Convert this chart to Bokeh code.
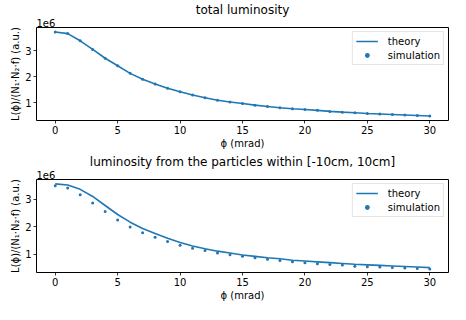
from bokeh.plotting import figure
from bokeh.layouts import column
from bokeh.models import FixedTicker, Range1d, Title
from bokeh.embed import file_html
from bokeh.resources import INLINE

phi = list(range(0, 31))

# values in units of 1e6
total_theory = [3.72, 3.655, 3.38, 3.05, 2.71, 2.42, 2.13, 1.90, 1.72, 1.56,
                1.42, 1.30, 1.19, 1.10, 1.03, 0.97, 0.91, 0.86, 0.81, 0.77,
                0.74, 0.71, 0.67, 0.64, 0.615, 0.59, 0.57, 0.55, 0.53, 0.51, 0.49]
total_sim = [3.72, 3.655, 3.38, 3.05, 2.71, 2.42, 2.13, 1.90, 1.72, 1.56,
             1.42, 1.30, 1.19, 1.10, 1.03, 0.97, 0.91, 0.86, 0.81, 0.77,
             0.74, 0.71, 0.67, 0.64, 0.615, 0.59, 0.57, 0.55, 0.53, 0.51, 0.49]

win_theory = [3.57, 3.53, 3.37, 3.11, 2.78, 2.45, 2.17, 1.94, 1.76, 1.58,
              1.43, 1.30, 1.20, 1.11, 1.04, 0.97, 0.92, 0.87, 0.83, 0.78,
              0.75, 0.72, 0.69, 0.66, 0.63, 0.61, 0.59, 0.57, 0.55, 0.53, 0.51]
win_sim = [3.50, 3.42, 3.17, 2.87, 2.56, 2.25, 1.99, 1.78, 1.62, 1.46,
           1.33, 1.22, 1.13, 1.04, 0.98, 0.92, 0.87, 0.81, 0.77, 0.72,
           0.69, 0.65, 0.62, 0.60, 0.56, 0.54, 0.53, 0.51, 0.49, 0.48, 0.46]

titles = ["total luminosity",
          "luminosity from the particles within [-10cm, 10cm]"]
x_ticks = [0, 5, 10, 15, 20, 25, 30]
y_ticks = [1, 2, 3]
x_label = "\u03d5 (mrad)"
y_label = "L(\u03d5)/(N\u2081\u00b7N\u2082\u00b7f) (a.u.)"
offset_text = "1e6"

FONT = "DejaVu Sans"
BLUE = "#1f77b4"


def make(title, theory, sim, ylim, height):
    p = figure(width=450, height=height, output_backend="svg",
               toolbar_location=None,
               x_range=Range1d(-1.5, 31.5), y_range=Range1d(*ylim),
               min_border_left=36, min_border_right=2,
               min_border_top=0, min_border_bottom=32)

    # offset text "1e6" sits just above the axes box, left aligned
    p.add_layout(Title(text=offset_text, align="left", text_font=FONT,
                       text_font_size="10px", text_font_style="normal",
                       text_color="black", standoff=1, offset=0), "above")

    p.title.text = title
    p.title.align = "center"
    p.title.text_font = FONT
    p.title.text_font_size = "12px"
    p.title.text_font_style = "normal"
    p.title.text_color = "black"
    p.title.standoff = 0
    p.title.offset = 0

    p.line(phi, theory, line_color=BLUE, line_width=1.6, legend_label="theory")
    p.scatter(phi, sim, size=3, fill_color=BLUE, line_color=None,
              legend_label="simulation")

    p.grid.visible = False
    p.outline_line_color = "black"
    p.outline_line_width = 1
    p.background_fill_color = "white"
    p.border_fill_color = "white"

    for ax in (p.xaxis[0], p.yaxis[0]):
        ax.axis_line_color = None
        ax.major_tick_line_color = "black"
        ax.major_tick_line_width = 0.8
        ax.major_tick_in = 0
        ax.major_tick_out = 3
        ax.minor_tick_line_color = None
        ax.major_label_text_font = FONT
        ax.major_label_text_font_size = "10px"
        ax.major_label_text_color = "black"
        ax.major_label_standoff = 2
        ax.axis_label_text_font = FONT
        ax.axis_label_text_font_size = "10px"
        ax.axis_label_text_font_style = "normal"
        ax.axis_label_text_color = "black"
        ax.axis_label_standoff = 1

    p.xaxis.ticker = FixedTicker(ticks=x_ticks)
    p.yaxis.ticker = FixedTicker(ticks=y_ticks)
    p.xaxis.axis_label = x_label
    p.yaxis.axis_label = y_label

    lg = p.legend[0]
    lg.location = "top_right"
    lg.margin = 4
    lg.padding = 3
    lg.spacing = 2
    lg.glyph_width = 22
    lg.glyph_height = 12
    lg.label_height = 12
    lg.label_standoff = 10
    lg.label_text_font = FONT
    lg.label_text_font_size = "10px"
    lg.label_text_color = "black"
    lg.border_line_color = "#cccccc"
    lg.border_line_width = 1
    lg.background_fill_alpha = 0.8
    return p


p1 = make(titles[0], total_theory, total_sim, (0.32, 3.89), 152)
p2 = make(titles[1], win_theory, win_sim, (0.33, 3.73), 152)

layout = column(p1, p2, spacing=0)
open("out.html", "w").write(file_html(layout, INLINE))
